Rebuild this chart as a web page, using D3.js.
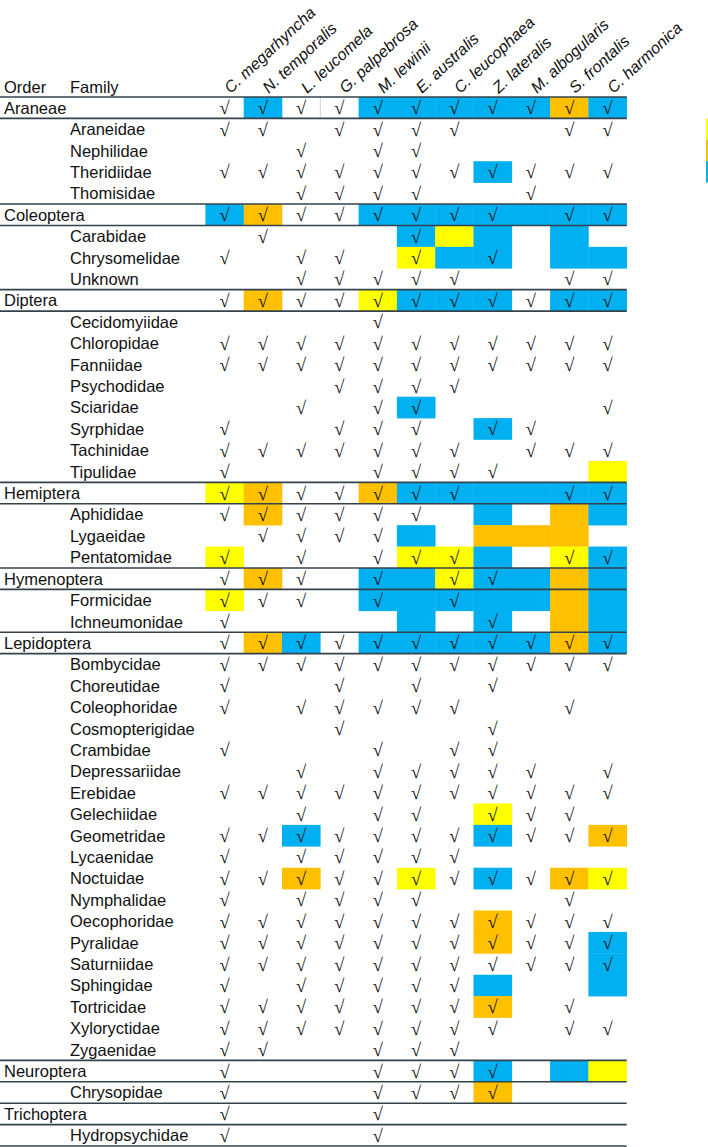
<!DOCTYPE html>
<html>
<head>
<meta charset="utf-8">
<script src="https://cdn.jsdelivr.net/npm/d3@7/dist/d3.min.js"></script>
<style>
  html, body { margin: 0; padding: 0; background: #fff; }
  svg { display: block; }
  text { font-family: "Liberation Sans", Arial, sans-serif; fill: #111; }
</style>
</head>
<body>
<div id="chart"></div>
<script>
// ---------------- DATA ----------------
const species = ["C. megarhyncha", "N. temporalis", "L. leucomela", "G. palpebrosa", "M. lewinii",
  "E. australis", "C. leucophaea", "Z. lateralis", "M. albogularis", "S. frontalis", "C. harmonica"];

const rowNames = [
  "Araneae", "Araneidae", "Nephilidae", "Theridiidae", "Thomisidae",
  "Coleoptera", "Carabidae", "Chrysomelidae", "Unknown",
  "Diptera", "Cecidomyiidae", "Chloropidae", "Fanniidae", "Psychodidae", "Sciaridae", "Syrphidae", "Tachinidae", "Tipulidae",
  "Hemiptera", "Aphididae", "Lygaeidae", "Pentatomidae",
  "Hymenoptera", "Formicidae", "Ichneumonidae",
  "Lepidoptera", "Bombycidae", "Choreutidae", "Coleophoridae", "Cosmopterigidae", "Crambidae", "Depressariidae",
  "Erebidae", "Gelechiidae", "Geometridae", "Lycaenidae", "Noctuidae", "Nymphalidae", "Oecophoridae", "Pyralidae",
  "Saturniidae", "Sphingidae", "Tortricidae", "Xyloryctidae", "Zygaenidae",
  "Neuroptera", "Chrysopidae",
  "Trichoptera", "Hydropsychidae"
];

// 1 = order row, 0 = family row
const rowLevel = [
  1,0,0,0,0,
  1,0,0,0,
  1,0,0,0,0,0,0,0,0,
  1,0,0,0,
  1,0,0,
  1,0,0,0,0,0,0,0,0,0,0,0,0,0,0,0,0,0,0,0,
  1,0,
  1,0
];

// presence (√) per species column
const presence = [
  "11111111111", "11011110011", "00101100000", "11111111111", "00111100100",
  "11111111011", "01000100000", "10110101000", "00111110011",
  "11111111111", "00001000000", "11111111111", "11111111111", "00011110000", "00101100001", "10011101100", "11111110111", "10001111000",
  "11111110011", "11111100000", "01111000000", "10101110011",
  "11101011000", "11101010000", "10000001000",
  "11111111111", "11111111111", "10010101000", "10111110010", "00010001000", "10001011000", "00101111101",
  "11111111111", "00101101110", "11111111111", "10111110000", "11111111111", "10111100010", "11111111111", "11111111111",
  "11111111111", "10111110000", "11111111010", "11111111011", "11001110000",
  "10001111000", "10001111000",
  "10001000000", "10001000000"
];

// highlight per cell: B = blue, O = orange, Y = yellow, . = none
const highlight = [
  ".B..BBBBBOB", "...........", "...........", ".......B...", "...........",
  "BO..BBBBBBB", ".....BYB.B.", ".....YBB.BB", "...........",
  ".O..YBBB.BB", "...........", "...........", "...........", "...........", ".....B.....", ".......B...", "...........", "..........Y",
  "YO..OBBBBBB", ".O.....B.OB", ".....B.OOO.", "Y....YYB.YB",
  ".O..BBYBBOB", "Y...BBBBBOB", ".....B.B.OB",
  ".OB.BBBBBOB", "...........", "...........", "...........", "...........", "...........", "...........",
  "...........", ".......Y...", "..B....B..O", "...........", "..O..Y.B.OY", "...........", ".......O...", ".......O..B",
  "..........B", ".......B..B", ".......O...", "...........", "...........",
  ".......B.BY", ".......O...",
  "...........", "..........."
];

const colorKey = { B: "#00B0F0", O: "#FFC000", Y: "#FFFF00" };
const legendKeys = ["Y", "O", "B"];

// ---------------- LAYOUT ----------------
const W = 708, H = 1147;
const tableLeft = 205.4, tableRight = 626.7, tableTop = 97, tableBottom = 1146;

const svg = d3.select("#chart").append("svg").attr("width", W).attr("height", H);

const x = d3.scaleBand().domain(species).range([tableLeft, tableRight]).padding(0);
const y = d3.scaleBand().domain(d3.range(rowNames.length)).range([tableTop, tableBottom]).padding(0);
const bw = x.bandwidth(), bh = y.bandwidth();

// cell data
const cells = [];
rowNames.forEach((r, i) => {
  species.forEach((s, j) => {
    cells.push({ row: i, sp: s, present: presence[i][j] === "1", hl: highlight[i][j] });
  });
});

// highlighted cells
svg.append("g").selectAll("rect")
  .data(cells.filter(d => d.hl !== "."))
  .join("rect")
  .attr("x", d => x(d.sp))
  .attr("y", d => y(d.row))
  .attr("width", bw + 0.3)
  .attr("height", bh + 0.3)
  .attr("fill", d => colorKey[d.hl]);

// faint cell divider in Araneae row
svg.append("line")
  .attr("x1", x(species[3])).attr("x2", x(species[3]))
  .attr("y1", y(0)).attr("y2", y(0) + bh)
  .attr("stroke", "#c8c8c8").attr("stroke-width", 0.8);

// horizontal rules: above & below each order row, plus bottom rule
const ruleYs = new Set();
rowLevel.forEach((lv, i) => {
  if (lv === 1) { ruleYs.add(y(i)); ruleYs.add(y(i) + bh); }
});
ruleYs.add(tableBottom);
svg.append("g").selectAll("line")
  .data(Array.from(ruleYs))
  .join("line")
  .attr("x1", 0).attr("x2", tableRight)
  .attr("y1", d => d).attr("y2", d => d)
  .attr("stroke", "#34424c").attr("stroke-width", 1.6);

// check marks
svg.append("g").selectAll("text")
  .data(cells.filter(d => d.present))
  .join("text")
  .attr("x", d => x(d.sp) + bw / 2)
  .attr("y", d => y(d.row) + bh / 2 + 6.5)
  .attr("text-anchor", "middle")
  .style("font-family", "'Liberation Serif', 'Times New Roman', serif")
  .style("font-size", "18.5px")
  .text("√");

// row labels
svg.append("g").selectAll("text")
  .data(rowNames.map((n, i) => ({ n, i })))
  .join("text")
  .attr("x", d => rowLevel[d.i] === 1 ? 4 : 70)
  .attr("y", d => y(d.i) + bh / 2 + 6)
  .style("font-size", "16.5px")
  .text(d => d.n);

// header labels
svg.append("text").attr("x", 4).attr("y", 93).style("font-size", "16.5px").text("Order");
svg.append("text").attr("x", 70).attr("y", 93).style("font-size", "16.5px").text("Family");

// species column headers (rotated)
svg.append("g").selectAll("text")
  .data(species)
  .join("text")
  .attr("transform", d => `translate(${x(d) + bw / 2 + 6},${94}) rotate(-43)`)
  .style("font-size", "16px")
  .style("font-style", "italic")
  .text(d => d);

// legend swatches (cut off at right edge)
svg.append("g").selectAll("rect")
  .data(legendKeys)
  .join("rect")
  .attr("x", 706)
  .attr("y", (d, i) => y(1 + i))
  .attr("width", 12)
  .attr("height", bh)
  .attr("fill", d => colorKey[d]);
</script>
</body>
</html>
